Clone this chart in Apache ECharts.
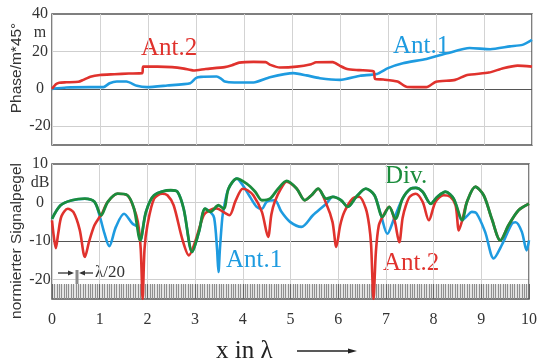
<!DOCTYPE html>
<html>
<head>
<meta charset="utf-8">
<script src="https://cdn.jsdelivr.net/npm/echarts@6/dist/echarts.min.js"></script>
<style>
  html, body { margin: 0; padding: 0; background: #fff; }
  #chart { width: 540px; height: 363px; }
</style>
</head>
<body>
<div id="chart"></div>
<script>
// --- top panel: phase (units of 45°) ---
const phaseAnt2X = [0, 0.08, 0.15, 0.3, 0.55, 0.65, 0.8, 1.0, 1.3, 1.6, 1.88, 1.9, 2.2, 2.5, 2.75, 2.95, 3.2, 3.6, 3.75, 3.9, 4.2, 4.45, 4.55, 4.75, 5.1, 5.4, 5.5, 5.85, 6.0, 6.15, 6.4, 6.7, 6.73, 6.9, 7.2, 7.4, 7.8, 8.0, 8.4, 8.65, 9.1, 9.4, 9.7, 10];
const phaseAnt2Y = [0, 2.5, 3.3, 3.5, 3.8, 4.8, 6.5, 7.4, 7.8, 8.2, 8.4, 11.9, 11.9, 11.6, 10.8, 9.8, 10.6, 11.6, 12.6, 14.0, 14.4, 14.3, 12.8, 11.4, 11.9, 13.2, 14.2, 14.3, 12.3, 10.6, 10.0, 9.3, 5.3, 5.0, 3.9, 1.0, 0.9, 3.8, 4.8, 7.4, 8.7, 11.0, 12.4, 11.9];
const phaseAnt1X = [0, 0.3, 0.8, 1.07, 1.2, 1.35, 1.55, 1.77, 1.98, 2.4, 2.88, 3.0, 3.1, 3.43, 3.52, 3.6, 3.8, 4.2, 4.54, 5.03, 5.3, 5.58, 6.0, 6.42, 6.77, 7.0, 7.31, 7.8, 8.23, 8.7, 9.13, 9.54, 9.8, 10];
const phaseAnt1Y = [0, 0.7, 0.9, 0.9, 3.0, 3.9, 3.9, 1.6, 0.9, 1.8, 3.0, 5.8, 6.4, 6.6, 5.5, 3.9, 3.4, 3.4, 6.2, 8.4, 7.2, 5.7, 4.8, 7.0, 8.0, 11.1, 13.7, 16.0, 19.0, 21.8, 21.2, 22.7, 23.5, 26.2];

// --- bottom panel: normalised signal level (dB) ---
const levelAnt1X = [0, 0.18, 0.42, 0.69, 0.89, 1.0, 1.1, 1.2, 1.34, 1.51, 1.69, 1.79, 1.85, 1.97, 2.14, 2.49, 2.63, 2.76, 2.94, 3.08, 3.21, 3.32, 3.4, 3.46, 3.49, 3.52, 3.57, 3.6, 3.7, 3.875, 4.0, 4.15, 4.29, 4.4, 4.5, 4.67, 4.81, 4.99, 5.23, 5.47, 5.75, 5.89, 6.06, 6.2, 6.38, 6.58, 6.76, 6.9, 7.03, 7.17, 7.35, 7.52, 7.625, 7.77, 7.94, 8.08, 8.25, 8.42, 8.6, 8.7, 8.8, 8.9, 9.08, 9.26, 9.43, 9.64, 9.72, 9.85, 9.95, 10];
const levelAnt1Y = [-4.2, -0.7, 0.6, 1.0, 0.2, -3.5, -8, -11.3, -6.3, -2.9, -5.5, -6.3, -9.8, -2.4, 1.9, 3.2, 2.8, -1.6, -12.8, -7.6, -1.6, -2.4, -4, -12, -18, -12, -4, -1.6, 3.6, 6.2, 4.5, 1.5, -1.1, -1.6, 0.2, 0.6, -2.4, -5.0, -6.3, -3.3, -0.3, 1.5, 0.6, -1.1, 1.5, 3.6, 1.9, -3.4, -8.1, -4.2, 1.0, 3.6, 3.8, 2.8, -0.3, 1.5, 2.8, 1.0, -4.6, -3.5, -2.4, -2.8, -7.6, -14.5, -11, -5.5, -5.1, -7.6, -12.4, -9.8];
const levelAnt2X = [0, 0.04, 0.08, 0.13, 0.2, 0.33, 0.45, 0.58, 0.69, 0.78, 0.89, 1.0, 1.03, 1.17, 1.375, 1.58, 1.72, 1.8, 1.86, 1.9, 1.94, 2.0, 2.14, 2.31, 2.42, 2.55, 2.73, 2.87, 3.0, 3.18, 3.3, 3.45, 3.6, 3.72, 3.85, 4.0, 4.1, 4.22, 4.4, 4.53, 4.6, 4.67, 4.8, 4.92, 5.13, 5.3, 5.44, 5.58, 5.75, 5.88, 5.96, 6.04, 6.13, 6.3, 6.44, 6.58, 6.65, 6.69, 6.74, 6.79, 6.85, 6.93, 7.07, 7.18, 7.28, 7.35, 7.42, 7.5, 7.625, 7.77, 7.9, 8.04, 8.21, 8.35, 8.46, 8.53, 8.6, 8.7, 8.875, 9.05, 9.22, 9.4, 9.57, 9.78, 10];
const levelAnt2Y = [-4.6, -9, -11.8, -8, -3.5, -1.6, -2.5, -7, -14.1, -10, -5.9, -3.7, -3.3, 0.2, 2.3, 1.9, -1.6, -5, -12, -25, -12, -5.9, 1.0, 2.3, 1.9, -0.7, -9.4, -13.7, -10.2, -3.3, -2.0, -1.5, -2.5, -3.3, 0.5, 3.6, 3.2, 1.9, -2.4, -8.9, -3, 0.2, 3.6, 5.4, 3.6, 0.6, 1.9, 3.6, -0.3, -5, -11.5, -6, -2.4, 1.0, 1.5, -1.6, -6, -11, -25, -12.8, -6, -3.7, -1.1, -4.5, -10.3, -4, -0.7, 1.5, 2.3, 0.2, -4.6, 0.2, 1.9, 1.5, -0.7, -7.2, -4.6, 0.2, 4.1, 1.9, -4.2, -9.8, -5.9, -2.0, -0.3];
const levelDivX = [0, 0.18, 0.42, 0.69, 0.89, 1.03, 1.17, 1.375, 1.58, 1.72, 1.85, 1.97, 2.14, 2.49, 2.63, 2.76, 2.94, 3.08, 3.21, 3.32, 3.49, 3.6, 3.7, 3.875, 4.08, 4.26, 4.4, 4.57, 4.74, 4.92, 5.13, 5.3, 5.44, 5.58, 5.75, 5.89, 6.06, 6.2, 6.38, 6.58, 6.76, 6.93, 7.07, 7.2, 7.35, 7.52, 7.625, 7.77, 7.94, 8.08, 8.25, 8.42, 8.6, 8.7, 8.875, 9.05, 9.22, 9.4, 9.57, 9.78, 10];
const levelDivY = [-4.2, -0.7, 0.6, 1.0, 0.2, -3.3, 0.2, 2.3, 1.9, -1.6, -9.8, -2.4, 1.9, 3.2, 2.8, -1.6, -12.8, -7.6, -1.6, -2.4, -0.7, -1.6, 3.6, 6.2, 4.9, 2.8, 0.6, 1.0, 3.6, 5.6, 3.6, 0.6, 1.9, 3.6, 1.0, 1.5, 0.6, -1.1, 1.5, 3.6, 1.9, -3.7, -1.1, -4.2, 1.0, 3.6, 3.8, 2.8, -0.3, 1.5, 2.8, 1.0, -4.6, 0.2, 4.1, 1.9, -4.2, -9.8, -5.9, -2.0, -0.3];

const phaseLabels = { 40: '40', 30: 'm', 20: '20', 0: '0', '-20': '-20' };
const levelLabels = { 10: '10', 5: 'dB', 0: '0', '-10': '-10', '-20': '-20' };

const RED = '#e0322d';
const BLUE = '#1e9be0';
const GREEN = '#1b8c3c';
const SERIF = 'Liberation Serif';

const pairs = (xs, ys) => xs.map((x, i) => [x, ys[i]]);

const chart = echarts.init(document.getElementById('chart'), null, { renderer: 'canvas' });

const gridLine = (v, dark) => ({ yAxis: v, lineStyle: { color: dark ? '#555' : '#cfcfcf', width: dark ? 1.2 : 1, type: 'solid' } });

const xAxisBase = {
  type: 'value', min: 0, max: 10, interval: 1,
  axisLine: { show: false, onZero: false },
  splitLine: { show: true, lineStyle: { color: '#d3d3d3', width: 1 } },
};

const yLabel = (map) => ({
  color: '#333', fontFamily: SERIF, fontSize: 16, align: 'center', margin: 12,
  formatter: (v) => map[v] || '',
});

const curve = (name, xi, yi, data, color, width, z, smooth) => ({
  name, type: 'line', xAxisIndex: xi, yAxisIndex: yi, data,
  showSymbol: false, smooth, z, silent: true,
  lineStyle: { color, width },
});

const text = (t, x, y, size, color, extra) => Object.assign({
  type: 'text', x, y, silent: true,
  style: { text: t, fill: color, font: size + 'px "' + SERIF + '"', textAlign: 'left', textVerticalAlign: 'middle' },
}, extra || {});

const option = {
  animation: false,
  backgroundColor: '#fff',
  grid: [
    { left: 52, top: 14, width: 480, height: 131, show: true, borderColor: '#555', borderWidth: 1.5, backgroundColor: 'transparent' },
    { left: 52, top: 164, width: 480, height: 135, show: true, borderColor: '#555', borderWidth: 1.5, backgroundColor: 'transparent' },
  ],
  xAxis: [
    Object.assign({}, xAxisBase, { gridIndex: 0, axisTick: { show: false }, axisLabel: { show: false } }),
    Object.assign({}, xAxisBase, {
      gridIndex: 1,
      axisTick: { show: true, inside: true, length: 15, lineStyle: { color: '#666', width: 1 } },
      minorTick: { show: true, splitNumber: 20, length: 15, lineStyle: { color: '#8f8f8f', width: 1 } },
      axisLabel: { color: '#333', fontFamily: SERIF, fontSize: 16, margin: 13 },
    }),
  ],
  yAxis: [
    { type: 'value', gridIndex: 0, min: -30, max: 40, interval: 10, axisLine: { show: false }, axisTick: { show: false }, splitLine: { show: false }, axisLabel: yLabel(phaseLabels) },
    { type: 'value', gridIndex: 1, min: -25, max: 10, interval: 5, axisLine: { show: false }, axisTick: { show: false }, splitLine: { show: false }, axisLabel: yLabel(levelLabels) },
  ],
  series: [
    {
      type: 'line', xAxisIndex: 0, yAxisIndex: 0, data: [[0, 0]], z: -1, silent: true,
      showSymbol: false, lineStyle: { width: 0 },
      markLine: { z: -1, silent: true, symbol: 'none', label: { show: false }, data: [gridLine(20), gridLine(-20), gridLine(0, true)] },
    },
    {
      type: 'line', xAxisIndex: 1, yAxisIndex: 1, data: [[0, -25]], z: -1, silent: true,
      showSymbol: false, lineStyle: { width: 0 },
      markLine: { z: -1, silent: true, symbol: 'none', label: { show: false }, data: [gridLine(0), gridLine(-20), gridLine(-10, true)] },
      markArea: { z: -2, silent: true, itemStyle: { color: '#e4e4e4' }, data: [[{ yAxis: -25 }, { yAxis: -21.2 }]] },
    },
    curve('Ant.1', 0, 0, pairs(phaseAnt1X, phaseAnt1Y), BLUE, 2.6, 3, 0.2),
    curve('Ant.2', 0, 0, pairs(phaseAnt2X, phaseAnt2Y), RED, 2.6, 4, 0.2),
    curve('Ant.1', 1, 1, pairs(levelAnt1X, levelAnt1Y), BLUE, 2.6, 3, 0.3),
    curve('Ant.2', 1, 1, pairs(levelAnt2X, levelAnt2Y), RED, 2.6, 4, 0.3),
    curve('Div.', 1, 1, pairs(levelDivX, levelDivY), GREEN, 2.8, 5, 0.3),
  ],
  graphic: [
    text('Ant.2', 141, 48, 25, RED),
    text('Ant.1', 393, 46.5, 25, BLUE),
    text('Div.', 385, 176.5, 25, GREEN),
    text('Ant.1', 226, 260.5, 25, BLUE),
    text('Ant.2', 383, 263, 25, RED),
    text('λ/20', 95, 272.5, 17, '#333'),
    text('x in λ', 216, 351, 25, '#222'),
    {
      type: 'text', x: 17, y: 68, rotation: Math.PI / 2, silent: true,
      style: { text: 'Phase/m*45°', fill: '#333', font: '15.5px "Liberation Sans"', textAlign: 'center', textVerticalAlign: 'middle' },
    },
    {
      type: 'text', x: 17, y: 241, rotation: Math.PI / 2, silent: true,
      style: { text: 'normierter Signalpegel', fill: '#333', font: '15.5px "Liberation Sans"', textAlign: 'center', textVerticalAlign: 'middle' },
    },
    // λ/20 marker
    { type: 'line', silent: true, shape: { x1: 58, y1: 273, x2: 72, y2: 273 }, style: { stroke: '#333', lineWidth: 1.3 } },
    { type: 'polygon', silent: true, shape: { points: [[74, 273], [68, 270.5], [68, 275.5]] }, style: { fill: '#333' } },
    { type: 'line', silent: true, shape: { x1: 81, y1: 273, x2: 93, y2: 273 }, style: { stroke: '#333', lineWidth: 1.3 } },
    { type: 'polygon', silent: true, shape: { points: [[79, 273], [85, 270.5], [85, 275.5]] }, style: { fill: '#333' } },
    { type: 'rect', silent: true, shape: { x: 75.5, y: 270, width: 3, height: 14 }, style: { fill: '#8a8a8a' } },
    // arrow after "x in λ"
    { type: 'line', silent: true, shape: { x1: 297, y1: 351, x2: 350, y2: 351 }, style: { stroke: '#222', lineWidth: 1.3 } },
    { type: 'polygon', silent: true, shape: { points: [[357, 351], [348, 348.5], [348, 353.5]] }, style: { fill: '#222' } },
  ],
};

chart.setOption(option);
</script>
</body>
</html>
